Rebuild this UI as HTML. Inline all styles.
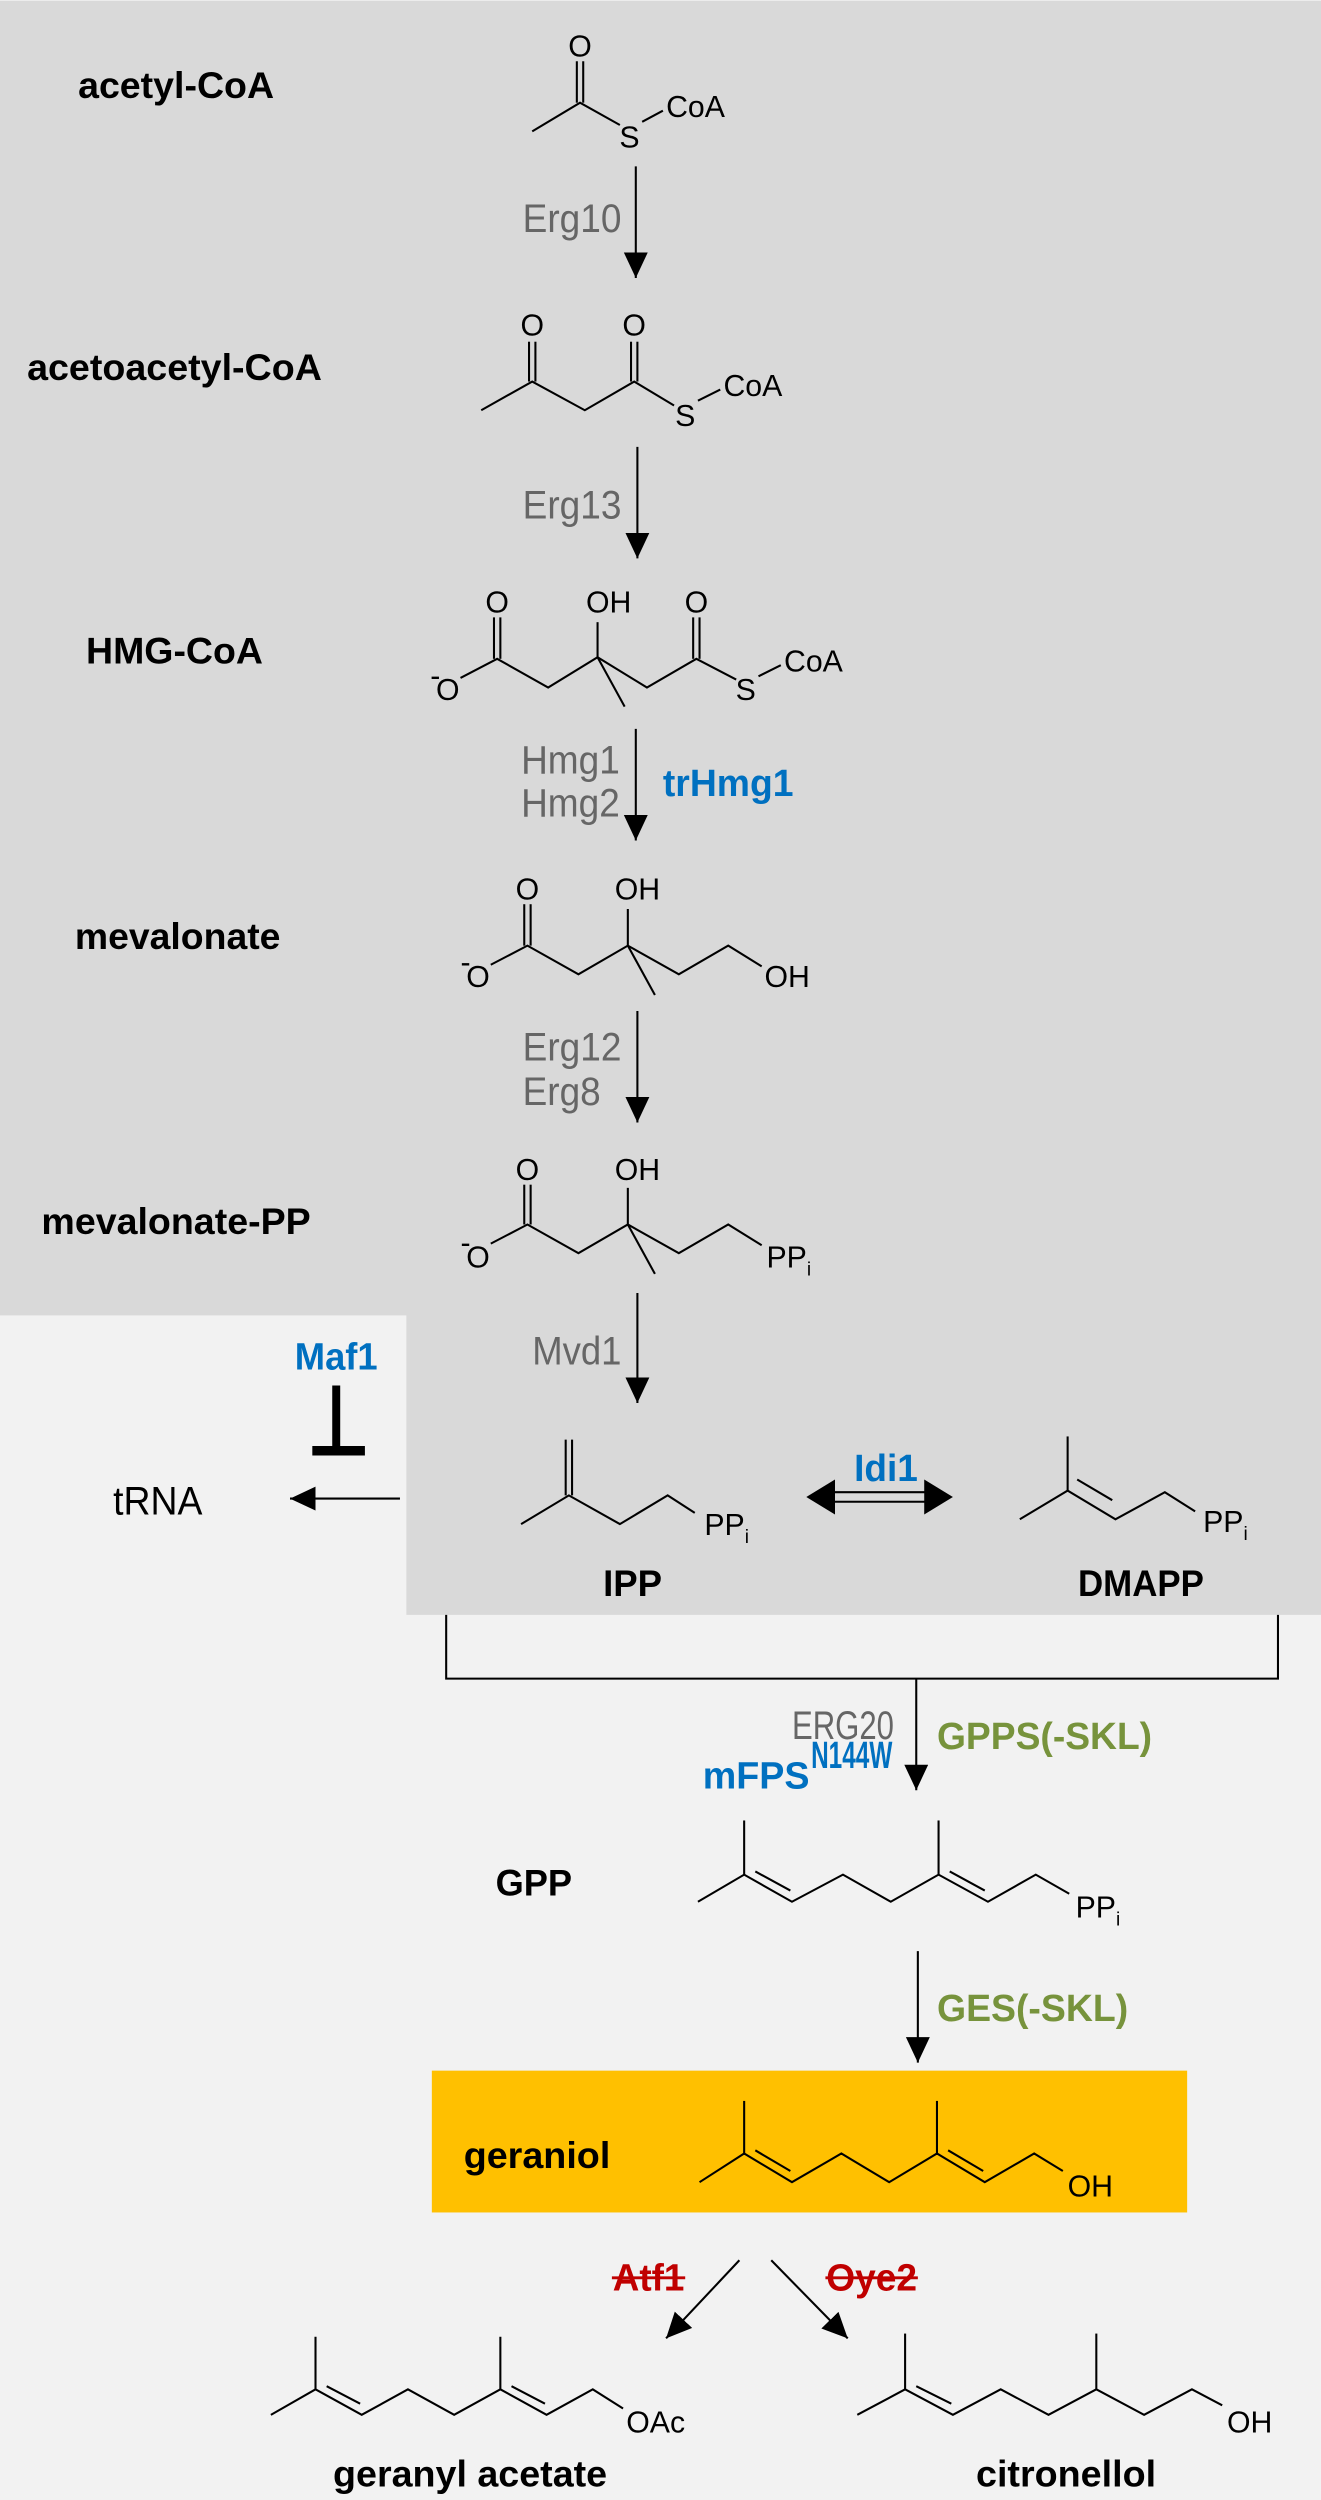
<!DOCTYPE html>
<html><head><meta charset="utf-8"><style>
html,body{margin:0;padding:0;background:#f2f2f2;}
svg{display:block;}
text{font-family:"Liberation Sans",Arial,sans-serif;}
.b{font-weight:bold;fill:#000;font-size:23px;}
.g{fill:#666;font-size:25px;}
.a{fill:#000;font-size:19px;}
.bl{fill:#0070c0;font-weight:bold;font-size:24px;}
.gr{fill:#77933c;font-weight:bold;font-size:24px;}
.rd{fill:#c00000;font-weight:bold;font-size:24px;}
.l{stroke:#000;stroke-width:1.3;fill:none;}
</style></head><body>
<svg width="1321" height="2500" viewBox="0 0 829 1568" xmlns="http://www.w3.org/2000/svg">
<defs>
<marker id="ah" markerUnits="userSpaceOnUse" markerWidth="16" markerHeight="20" refX="16" refY="7.5" orient="auto">
<path d="M0,0 L16,7.5 L0,15 Z" fill="#000"/>
</marker>
</defs>
<rect x="0" y="0" width="829" height="1568" fill="#f2f2f2"/>
<path d="M0,0 H829 V1013 H255 V825 H0 Z" fill="#d9d9d9"/>

<text class="b" x="49" y="61" textLength="123" lengthAdjust="spacingAndGlyphs">acetyl-CoA</text>
<text class="b" x="17" y="238" textLength="185" lengthAdjust="spacingAndGlyphs">acetoacetyl-CoA</text>
<text class="b" x="54" y="416" textLength="111" lengthAdjust="spacingAndGlyphs">HMG-CoA</text>
<text class="b" x="47" y="595" textLength="129" lengthAdjust="spacingAndGlyphs">mevalonate</text>
<text class="b" x="26" y="774" textLength="169" lengthAdjust="spacingAndGlyphs">mevalonate-PP</text>

<!-- acetyl-CoA -->
<polyline class="l" points="334,82 364,64 389,78"/>
<line class="l" x1="362" y1="64" x2="362" y2="38"/><line class="l" x1="366" y1="64" x2="366" y2="38"/>
<text class="a" x="364" y="35" text-anchor="middle">O</text>
<text class="a" x="395" y="92" text-anchor="middle">S</text>
<line class="l" x1="403" y1="76" x2="416" y2="69"/>
<text class="a" x="418" y="73">CoA</text>
<line class="l" x1="399" y1="104" x2="399" y2="174" marker-end="url(#ah)"/>
<text class="g" x="390" y="145" text-anchor="end" textLength="62" lengthAdjust="spacingAndGlyphs">Erg10</text>

<!-- acetoacetyl-CoA -->
<polyline class="l" points="302,257 334,239 367,257 398,239 423,254"/>
<line class="l" x1="332" y1="239" x2="332" y2="214"/><line class="l" x1="336" y1="239" x2="336" y2="214"/>
<line class="l" x1="396" y1="239" x2="396" y2="214"/><line class="l" x1="400" y1="239" x2="400" y2="214"/>
<text class="a" x="334" y="210" text-anchor="middle">O</text>
<text class="a" x="398" y="210" text-anchor="middle">O</text>
<text class="a" x="430" y="267" text-anchor="middle">S</text>
<line class="l" x1="438" y1="251" x2="452" y2="244"/>
<text class="a" x="454" y="248">CoA</text>
<line class="l" x1="400" y1="280" x2="400" y2="350" marker-end="url(#ah)"/>
<text class="g" x="390" y="325" text-anchor="end" textLength="62" lengthAdjust="spacingAndGlyphs">Erg13</text>

<!-- HMG-CoA -->
<polyline class="l" points="289,425 312,413 344,431 375,412 406,431 437,413 462,426"/>
<line class="l" x1="375" y1="412" x2="392" y2="443"/>
<line class="l" x1="375" y1="412" x2="375" y2="390"/>
<line class="l" x1="310" y1="413" x2="310" y2="387"/><line class="l" x1="314" y1="413" x2="314" y2="387"/>
<line class="l" x1="435" y1="413" x2="435" y2="387"/><line class="l" x1="439" y1="413" x2="439" y2="387"/>
<text class="a" x="312" y="384" text-anchor="middle">O</text>
<text class="a" x="382" y="384" text-anchor="middle">OH</text>
<text class="a" x="437" y="384" text-anchor="middle">O</text>
<text class="a" x="281" y="439" text-anchor="middle">O</text>
<text class="a" x="270" y="430" font-size="12">-</text>
<text class="a" x="468" y="439" text-anchor="middle">S</text>
<line class="l" x1="476" y1="424" x2="490" y2="417"/>
<text class="a" x="492" y="421">CoA</text>
<line class="l" x1="399" y1="457" x2="399" y2="527" marker-end="url(#ah)"/>
<text class="g" x="389" y="485" text-anchor="end" textLength="62" lengthAdjust="spacingAndGlyphs">Hmg1</text>
<text class="g" x="389" y="512" text-anchor="end" textLength="62" lengthAdjust="spacingAndGlyphs">Hmg2</text>
<text class="bl" x="416" y="499" textLength="82" lengthAdjust="spacingAndGlyphs">trHmg1</text>

<!-- mevalonate -->
<polyline class="l" points="308,605 331,593 363,611 394,593 426,611 457,593 478,606"/>
<line class="l" x1="394" y1="593" x2="411" y2="624"/>
<line class="l" x1="394" y1="593" x2="394" y2="570"/>
<line class="l" x1="329" y1="593" x2="329" y2="567"/><line class="l" x1="333" y1="593" x2="333" y2="567"/>
<text class="a" x="331" y="564" text-anchor="middle">O</text>
<text class="a" x="400" y="564" text-anchor="middle">OH</text>
<text class="a" x="300" y="619" text-anchor="middle">O</text>
<text class="a" x="289" y="610" font-size="12">-</text>
<text class="a" x="494" y="619" text-anchor="middle">OH</text>
<line class="l" x1="400" y1="634" x2="400" y2="704" marker-end="url(#ah)"/>
<text class="g" x="390" y="665" text-anchor="end" textLength="62" lengthAdjust="spacingAndGlyphs">Erg12</text>
<text class="g" x="377" y="693" text-anchor="end" textLength="49" lengthAdjust="spacingAndGlyphs">Erg8</text>

<!-- mevalonate-PP -->
<polyline class="l" points="308,780 331,768 363,786 394,768 426,786 457,768 478,781"/>
<line class="l" x1="394" y1="768" x2="411" y2="799"/>
<line class="l" x1="394" y1="768" x2="394" y2="745"/>
<line class="l" x1="329" y1="768" x2="329" y2="743"/><line class="l" x1="333" y1="768" x2="333" y2="743"/>
<text class="a" x="331" y="740" text-anchor="middle">O</text>
<text class="a" x="400" y="740" text-anchor="middle">OH</text>
<text class="a" x="300" y="795" text-anchor="middle">O</text>
<text class="a" x="289" y="786" font-size="12">-</text>
<text class="a" x="481" y="795">PP<tspan font-size="12" dy="5">i</tspan></text>
<line class="l" x1="400" y1="811" x2="400" y2="880" marker-end="url(#ah)"/>
<text class="g" x="390" y="856" text-anchor="end" textLength="56" lengthAdjust="spacingAndGlyphs">Mvd1</text>

<!-- Maf1 / tRNA -->
<text class="bl" x="211" y="859" text-anchor="middle" textLength="52" lengthAdjust="spacingAndGlyphs">Maf1</text>
<line x1="211" y1="869" x2="211" y2="909" stroke="#000" stroke-width="5"/>
<line x1="196" y1="910" x2="229" y2="910" stroke="#000" stroke-width="6"/>
<text x="99" y="950" text-anchor="middle" font-size="25" fill="#000" textLength="56" lengthAdjust="spacingAndGlyphs">tRNA</text>
<line class="l" x1="251" y1="940" x2="182" y2="940" marker-end="url(#ah)"/>

<!-- IPP -->
<polyline class="l" points="327,956 357,938 389,956 419,938 436,949"/>
<line class="l" x1="355" y1="938" x2="355" y2="903"/><line class="l" x1="359" y1="938" x2="359" y2="903"/>
<text class="a" x="442" y="963">PP<tspan font-size="12" dy="5">i</tspan></text>
<text class="b" x="397" y="1001" text-anchor="middle" textLength="37" lengthAdjust="spacingAndGlyphs">IPP</text>

<!-- Idi1 -->
<text class="bl" x="556" y="929" text-anchor="middle" textLength="40" lengthAdjust="spacingAndGlyphs">Idi1</text>
<line class="l" x1="520" y1="936" x2="584" y2="936"/>
<line class="l" x1="520" y1="942" x2="584" y2="942"/>
<path d="M506,939 L524,928 L524,950 Z" fill="#000"/>
<path d="M598,939 L580,928 L580,950 Z" fill="#000"/>

<!-- DMAPP -->
<polyline class="l" points="640,953 670,935 700,953 731,936 750,948"/>
<line class="l" x1="670" y1="935" x2="670" y2="901"/>
<line class="l" x1="676" y1="928" x2="698" y2="941"/>
<text class="a" x="755" y="961">PP<tspan font-size="12" dy="5">i</tspan></text>
<text class="b" x="716" y="1001" text-anchor="middle" textLength="79" lengthAdjust="spacingAndGlyphs">DMAPP</text>

<!-- bracket -->
<polyline class="l" points="280,1013 280,1053 802,1053 802,1013"/>
<line class="l" x1="575" y1="1053" x2="575" y2="1123" marker-end="url(#ah)"/>
<text class="g" x="561" y="1091" text-anchor="end" textLength="64" lengthAdjust="spacingAndGlyphs">ERG20</text>
<text class="bl" x="441" y="1122" textLength="67" lengthAdjust="spacingAndGlyphs">mFPS</text>
<text class="bl" x="509" y="1109" font-size="15" textLength="51" lengthAdjust="spacingAndGlyphs">N144W</text>
<text class="gr" x="588" y="1097" textLength="135" lengthAdjust="spacingAndGlyphs">GPPS(-SKL)</text>

<!-- GPP -->
<text class="b" x="335" y="1189" text-anchor="middle" textLength="48" lengthAdjust="spacingAndGlyphs">GPP</text>
<polyline class="l" points="438,1193 467,1176 497,1193 529,1176 559,1193 589,1176 620,1193 650,1176 671,1188"/>
<line class="l" x1="467" y1="1176" x2="467" y2="1142"/>
<line class="l" x1="589" y1="1176" x2="589" y2="1142"/>
<line class="l" x1="474" y1="1174" x2="496" y2="1186"/>
<line class="l" x1="596" y1="1174" x2="618" y2="1186"/>
<text class="a" x="675" y="1203">PP<tspan font-size="12" dy="5">i</tspan></text>
<line class="l" x1="576" y1="1224" x2="576" y2="1294" marker-end="url(#ah)"/>
<text class="gr" x="588" y="1268" textLength="120" lengthAdjust="spacingAndGlyphs">GES(-SKL)</text>

<!-- geraniol -->
<rect x="271" y="1299" width="474" height="89" fill="#ffc000"/>
<text class="b" x="337" y="1360" text-anchor="middle" textLength="92" lengthAdjust="spacingAndGlyphs">geraniol</text>
<polyline class="l" points="439,1369 467,1351 497,1369 528,1351 558,1369 588,1351 618,1369 649,1351 667,1362"/>
<line class="l" x1="467" y1="1351" x2="467" y2="1318"/>
<line class="l" x1="588" y1="1351" x2="588" y2="1318"/>
<line class="l" x1="474" y1="1349" x2="496" y2="1362"/>
<line class="l" x1="595" y1="1349" x2="617" y2="1362"/>
<text class="a" x="670" y="1378">OH</text>

<!-- Atf1 / Oye2 -->
<text class="rd" x="407" y="1437" text-anchor="middle" textLength="45" lengthAdjust="spacingAndGlyphs">Atf1</text>
<line x1="384" y1="1429" x2="430" y2="1429" stroke="#c00000" stroke-width="1.8"/>
<text class="rd" x="547" y="1437" text-anchor="middle" textLength="57" lengthAdjust="spacingAndGlyphs">Oye2</text>
<line x1="518" y1="1429" x2="576" y2="1429" stroke="#c00000" stroke-width="1.8"/>
<line class="l" x1="464" y1="1418" x2="418" y2="1467" marker-end="url(#ah)"/>
<line class="l" x1="484" y1="1418" x2="532" y2="1467" marker-end="url(#ah)"/>

<!-- geranyl acetate -->
<polyline class="l" points="170,1515 198,1499 227,1515 256,1499 285,1515 314,1499 343,1515 372,1499 391,1511"/>
<line class="l" x1="198" y1="1499" x2="198" y2="1466"/>
<line class="l" x1="314" y1="1499" x2="314" y2="1466"/>
<line class="l" x1="205" y1="1497" x2="226" y2="1508"/>
<line class="l" x1="321" y1="1497" x2="342" y2="1508"/>
<text class="a" x="393" y="1526">OAc</text>
<text class="b" x="295" y="1560" text-anchor="middle" textLength="172" lengthAdjust="spacingAndGlyphs">geranyl acetate</text>

<!-- citronellol -->
<polyline class="l" points="538,1515 568,1499 598,1515 628,1499 658,1515 688,1499 718,1515 748,1499 767,1509"/>
<line class="l" x1="568" y1="1499" x2="568" y2="1464"/>
<line class="l" x1="688" y1="1499" x2="688" y2="1464"/>
<line class="l" x1="575" y1="1497" x2="597" y2="1508"/>
<text class="a" x="770" y="1526">OH</text>
<text class="b" x="669" y="1560" text-anchor="middle" textLength="113" lengthAdjust="spacingAndGlyphs">citronellol</text>
</svg>
</body></html>
